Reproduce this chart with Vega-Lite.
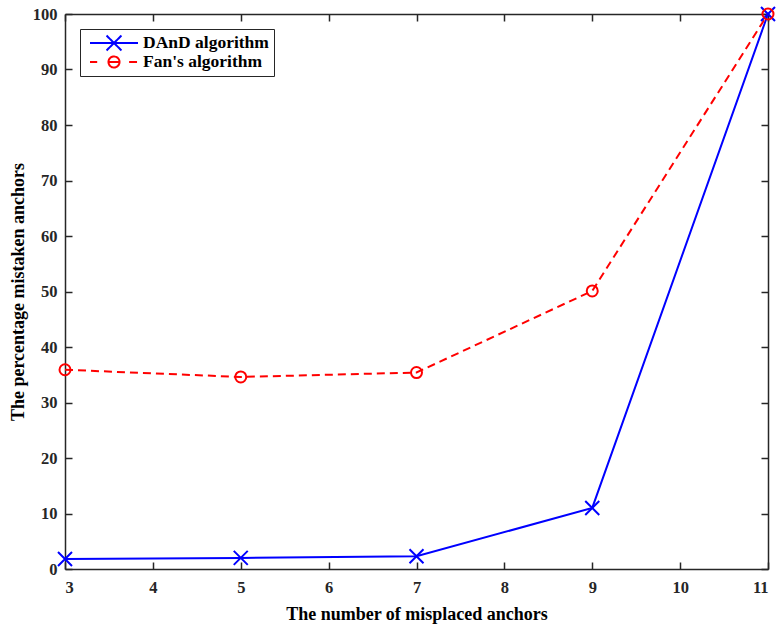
{
  "$schema": "https://vega.github.io/schema/vega-lite/v6.json",
  "autosize": "none",
  "width": 703,
  "height": 555,
  "padding": {"left": 65, "top": 14, "right": 10, "bottom": 60},
  "background": "white",
  "config": {
    "view": {"stroke": null},
    "font": "Liberation Serif",
    "axis": {
      "grid": false,
      "domainColor": "#262626",
      "domainWidth": 1.5,
      "tickColor": "#262626",
      "tickWidth": 1.5,
      "tickSize": -7,
      "labelFont": "Liberation Serif",
      "labelFontWeight": "bold",
      "labelFontSize": 16.5,
      "labelColor": "#262626",
      "titleFont": "Liberation Serif",
      "titleFontWeight": "bold",
      "titleFontSize": 18,
      "titleColor": "#000000"
    }
  },
  "data": {
    "values": [
      {"n": 3, "pct": 1.8, "algo": "DAnD algorithm"},
      {"n": 5, "pct": 2.0, "algo": "DAnD algorithm"},
      {"n": 7, "pct": 2.3, "algo": "DAnD algorithm"},
      {"n": 9, "pct": 11.0, "algo": "DAnD algorithm"},
      {"n": 11, "pct": 100, "algo": "DAnD algorithm"},
      {"n": 3, "pct": 35.9, "algo": "Fan's algorithm"},
      {"n": 5, "pct": 34.6, "algo": "Fan's algorithm"},
      {"n": 7, "pct": 35.4, "algo": "Fan's algorithm"},
      {"n": 9, "pct": 50.1, "algo": "Fan's algorithm"},
      {"n": 11, "pct": 100, "algo": "Fan's algorithm"}
    ]
  },
  "resolve": {"axis": {"x": "independent", "y": "independent"}},
  "layer": [
    {
      "transform": [{"filter": "datum.algo === 'DAnD algorithm'"}],
      "mark": {"type": "line", "strokeWidth": 2},
      "encoding": {
        "x": {
          "field": "n", "type": "quantitative",
          "scale": {"domain": [3, 11], "nice": false, "zero": false},
          "axis": {"orient": "bottom", "values": [3,4,5,6,7,8,9,10,11], "title": "The number of misplaced anchors", "labelPadding": 17, "titleY": 36}
        },
        "y": {
          "field": "pct", "type": "quantitative",
          "scale": {"domain": [0, 100], "nice": false},
          "axis": {"orient": "left", "values": [0,10,20,30,40,50,60,70,80,90,100], "title": "The percentage mistaken anchors", "labelPadding": 15, "titleX": -38}
        },
        "color": {
          "field": "algo", "type": "nominal",
          "scale": {"domain": ["DAnD algorithm", "Fan's algorithm"], "range": ["#0000ff", "#ff0000"]},
          "legend": {
            "title": null,
            "orient": "none",
            "legendX": 15,
            "legendY": 15,
            "strokeColor": "#262626",
            "fillColor": "white",
            "padding": 5,
            "labelFont": "Liberation Serif",
            "labelFontWeight": "bold",
            "labelFontSize": 17.5,
            "labelColor": "#000000",
            "labelOffset": 4,
            "symbolSize": 2304,
            "symbolOffset": 4,
            "clipHeight": 18,
            "rowPadding": 1,
            "symbolStrokeWidth": 2,
            "symbolDash": [1, 0],
            "symbolFillColor": "transparent",
            "symbolType": {"expr": "datum.value === 'DAnD algorithm' ? 'M-1,0L1,0M-0.31,-0.31L0.31,0.31M-0.31,0.31L0.31,-0.31' : 'M-1,0L-0.7,0M-0.23,0L0.23,0M0.63,0L0.96,0M0.23,0A0.23,0.23,0,0,1,-0.23,0A0.23,0.23,0,0,1,0.23,0'"}
          }
        }
      }
    },
    {
      "transform": [{"filter": "datum.algo === \"Fan's algorithm\""}],
      "mark": {"type": "line", "strokeWidth": 2, "strokeDash": [8, 5]},
      "encoding": {
        "x": {"field": "n", "type": "quantitative", "axis": null},
        "y": {"field": "pct", "type": "quantitative", "axis": null},
        "color": {"field": "algo", "type": "nominal", "legend": null}
      }
    },
    {
      "transform": [{"filter": "datum.algo === 'DAnD algorithm'"}],
      "mark": {"type": "point", "filled": false, "strokeWidth": 2, "opacity": 1, "shape": "M-1,-1L1,1M-1,1L1,-1", "size": 196},
      "encoding": {
        "x": {
          "field": "n", "type": "quantitative",
          "axis": {"orient": "top", "values": [3,4,5,6,7,8,9,10,11], "labels": false, "title": null}
        },
        "y": {
          "field": "pct", "type": "quantitative",
          "axis": {"orient": "right", "values": [0,10,20,30,40,50,60,70,80,90,100], "labels": false, "title": null}
        },
        "color": {"field": "algo", "type": "nominal", "legend": null}
      }
    },
    {
      "transform": [{"filter": "datum.algo === \"Fan's algorithm\""}],
      "mark": {"type": "point", "filled": false, "strokeWidth": 2, "opacity": 1, "shape": "circle", "size": 121},
      "encoding": {
        "x": {"field": "n", "type": "quantitative", "axis": null},
        "y": {"field": "pct", "type": "quantitative", "axis": null},
        "color": {"field": "algo", "type": "nominal", "legend": null}
      }
    }
  ]
}
